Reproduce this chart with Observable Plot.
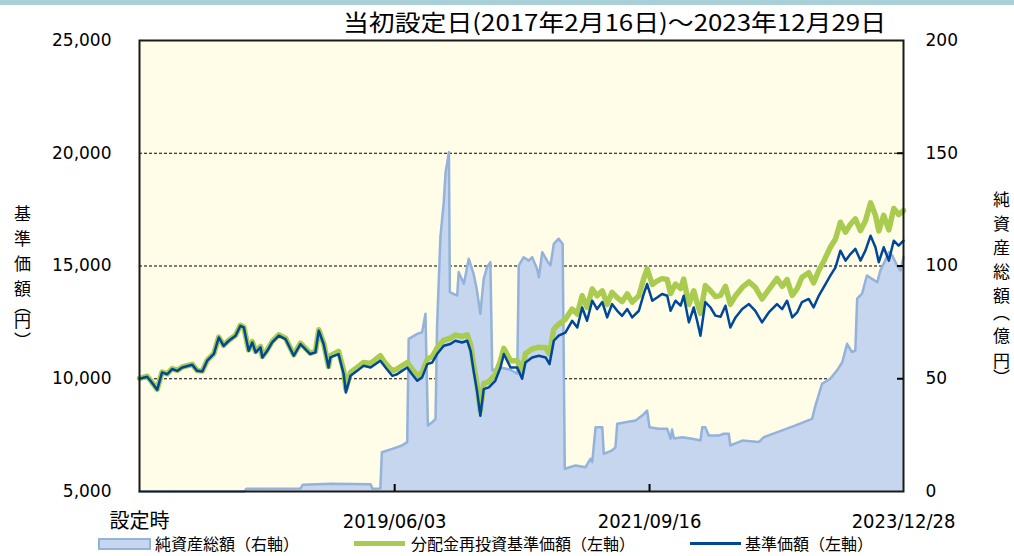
<!DOCTYPE html>
<html>
<head>
<meta charset="utf-8">
<script src="https://cdn.jsdelivr.net/npm/d3@7"></script>
<script src="https://cdn.jsdelivr.net/npm/@observablehq/plot@0.6"></script>
<style>
  body { margin: 0; background: #fff; }
  #wrap { position: relative; width: 1014px; height: 556px; overflow: hidden; font-family: "Noto Sans CJK JP", sans-serif; color: #000; }
  #band { position: absolute; left: 0; top: 0; width: 1014px; height: 5px; background: #a9d0d8; }
  #title { position: absolute; left: 343px; top: 8px; font-size: 23px; line-height: 26px; white-space: nowrap; transform-origin: 0 0; }
  #chart { position: absolute; left: 0; top: 0; }
  .vlab { position: absolute; writing-mode: vertical-rl; font-size: 17px; line-height: 18px; white-space: nowrap; }
  .leg { position: absolute; font-size: 16px; line-height: 16px; white-space: nowrap; top: 535px; }
  .sw { position: absolute; }
</style>
</head>
<body>
<div id="wrap">
  <div id="band"></div>
  <div id="chart"></div>
  <div id="title"></div>
  <div id="ylabL" class="vlab" style="left:13px;top:205px;"></div>
  <div id="ylabR" class="vlab" style="left:992px;top:191px;"></div>
  <div class="sw" style="left:98px;top:538px;width:49px;height:8px;background:#c5d6ee;border:2px solid #94b2da;"></div>
  <div class="leg" id="leg1" style="left:155px;"></div>
  <div class="sw" style="left:354px;top:541px;width:51px;height:5px;background:#a9cc50;"></div>
  <div class="leg" id="leg2" style="left:411px;"></div>
  <div class="sw" style="left:690px;top:542px;width:51px;height:3px;background:#00479a;"></div>
  <div class="leg" id="leg3" style="left:745px;"></div>
</div>
<script>
// ---- texts ----
const titleText = "当初設定日(2017年2月16日)～2023年12月29日";
const leftAxisTitle = "基準価額（円）";
const rightAxisTitle = "純資産総額（億円）";
const legendLabels = ["純資産総額（右軸）", "分配金再投資基準価額（左軸）", "基準価額（左軸）"];

// ---- axis ticks ----
const leftTicks = [5000, 10000, 15000, 20000, 25000];
const gridValues = [10000, 15000, 20000];
const xTickDates = ["2017-02-16", "2019-06-03", "2021-09-16", "2023-12-28"];
const xTickLabels = ["設定時", "2019/06/03", "2021/09/16", "2023/12/28"];

// ---- NAV series (円) ----
const navDates = [
"2017-02-16","2017-03-13","2017-03-24","2017-04-15","2017-05-01","2017-05-18","2017-06-03","2017-06-20","2017-07-06","2017-08-08","2017-08-24","2017-09-10","2017-09-26","2017-10-18","2017-11-03","2017-11-19","2017-12-06","2017-12-28",
"2018-01-13","2018-01-24","2018-02-09","2018-02-21","2018-03-04","2018-03-20","2018-03-26","2018-04-11","2018-04-27","2018-05-19","2018-06-10","2018-06-21","2018-07-07","2018-07-29","2018-08-14","2018-08-30","2018-09-16","2018-09-27","2018-10-13","2018-10-29","2018-11-04","2018-12-01","2018-12-18","2018-12-25",
"2019-01-09","2019-01-31","2019-02-21","2019-03-16","2019-04-17","2019-05-04","2019-05-26","2019-06-11","2019-06-27","2019-07-14","2019-07-30","2019-08-16","2019-09-01","2019-09-18","2019-10-04","2019-10-20","2019-11-11","2019-12-03","2019-12-19",
"2020-01-10","2020-01-27","2020-02-07","2020-02-17","2020-02-28","2020-03-10","2020-03-21","2020-04-07","2020-04-28","2020-05-15","2020-05-26","2020-06-17","2020-07-09","2020-07-25","2020-08-05","2020-08-27","2020-09-18","2020-10-10","2020-10-23","2020-11-06","2020-11-22","2020-12-14",
"2021-01-05","2021-01-22","2021-02-07","2021-02-23","2021-03-12","2021-03-28","2021-04-14","2021-04-30","2021-05-16","2021-06-02","2021-06-18","2021-07-05","2021-07-21","2021-08-12","2021-08-28","2021-09-08","2021-09-25","2021-10-11","2021-10-27","2021-11-13","2021-11-24","2021-12-10","2021-12-27",
"2022-01-06","2022-01-23","2022-02-08","2022-02-19","2022-03-02","2022-03-18","2022-04-04","2022-04-20","2022-05-07","2022-05-23","2022-06-08","2022-06-25","2022-07-17","2022-08-08","2022-08-29","2022-09-20","2022-10-12","2022-11-08","2022-11-25","2022-12-11","2022-12-28",
"2023-01-13","2023-01-29","2023-02-20","2023-03-08","2023-03-25","2023-04-10","2023-05-02","2023-05-19","2023-06-04","2023-06-21","2023-07-07","2023-07-23","2023-08-09","2023-08-25","2023-09-11","2023-09-27","2023-10-08","2023-10-24","2023-11-10","2023-11-26","2023-12-12","2023-12-28"
];
const navValues = [
10000,10090,9910,9510,10280,10200,10430,10350,10500,10620,10350,10320,10800,11100,11830,11460,11685,11910,
12350,12280,11240,11610,11170,11390,10945,11240,11610,11910,11760,11460,11020,11540,11317,11095,11170,12130,11540,10500,10945,11095,10200,9390,
10130,10350,10575,10500,10800,10500,10130,10200,10350,10500,10200,9910,10060,10650,10720,11095,11460,11540,11685,
11610,11685,11240,10350,9470,8360,9540,9615,9910,10500,11095,10500,10500,10000,10720,10945,11020,10945,10650,11685,11910,12050,
12570,12275,13160,12570,13460,13090,13400,12720,13310,13015,12790,13090,12720,13015,13760,14200,13460,13600,13760,13680,13015,13460,13240,
13680,12500,13160,12570,11910,13400,13160,12800,12750,13240,12275,12720,13090,13310,13015,12500,12940,13310,13090,13460,12720,
12940,13400,13540,13160,13680,14050,14570,14940,15680,15240,15530,15760,15240,15680,16340,15830,15170,15830,15240,16120,15900,16120
];
const reinvValues = [
10020,10110,9930,9530,10300,10220,10450,10370,10520,10640,10370,10340,10820,11120,11850,11480,11705,11930,
12370,12300,11280,11650,11210,11430,10985,11280,11650,11950,11800,11500,11060,11580,11357,11135,11210,12170,11580,10540,11025,11210,10350,9540,
10280,10500,10720,10680,11020,10680,10350,10430,10575,10720,10430,10130,10280,10870,10975,11360,11715,11805,11940,
11875,11950,11510,10620,9735,8580,9790,9880,10180,10800,11350,10800,10800,10350,11120,11320,11400,11380,11100,12200,12420,12640,
13090,12870,13680,13160,13980,13680,13900,13300,13830,13600,13420,13760,13400,13680,14450,14870,14180,14340,14440,14400,13780,14200,14000,
14420,13300,13900,13360,12900,14130,13900,13650,13700,14100,13300,13680,14050,14300,14050,13540,13950,14450,14100,14400,13700,
14000,14500,14700,14250,14800,15200,15830,16200,16940,16500,16850,17090,16570,17000,17800,17250,16550,17250,16600,17550,17280,17460
];

// ---- net assets (億円, right axis) ----
const assetDates = [
"2017-02-16","2018-01-26","2018-02-02","2018-07-29","2018-08-05","2018-11-05","2019-03-16","2019-03-22","2019-04-17","2019-04-22",
"2019-05-26","2019-06-27","2019-07-14","2019-07-19","2019-08-16","2019-09-01","2019-09-12","2019-09-20","2019-10-04","2019-10-15",
"2019-10-20","2019-10-31","2019-11-11","2019-11-17","2019-11-28","2019-12-01","2019-12-25","2019-12-30","2020-01-16","2020-02-01",
"2020-02-17","2020-02-28","2020-03-10","2020-03-21","2020-04-01","2020-04-12","2020-04-18","2020-05-15","2020-06-17","2020-07-09",
"2020-07-14","2020-07-30","2020-08-16","2020-08-27","2020-09-12","2020-09-18","2020-09-29","2020-10-15","2020-10-26","2020-11-06",
"2020-11-22","2020-12-05","2020-12-12","2021-01-16","2021-02-18","2021-03-06","2021-03-12","2021-03-23","2021-04-14","2021-04-19",
"2021-05-16","2021-05-27","2021-06-02","2021-06-29","2021-08-01","2021-08-23","2021-09-08","2021-09-16","2021-10-16","2021-11-13",
"2021-11-24","2021-11-29","2021-12-05","2022-01-01","2022-02-03","2022-03-02","2022-03-08","2022-03-18","2022-03-29","2022-05-01",
"2022-05-17","2022-06-03","2022-06-08","2022-07-17","2022-09-09","2022-09-26","2022-11-25","2023-01-08","2023-03-03","2023-03-14",
"2023-04-05","2023-05-02","2023-05-24","2023-06-10","2023-06-26","2023-07-12","2023-07-23","2023-07-29","2023-08-14","2023-08-30",
"2023-09-16","2023-10-03","2023-10-13","2023-10-29","2023-11-10","2023-11-21","2023-12-07","2023-12-18","2023-12-28"
];
const assetValues = [
0,0,1.2,1.3,3.0,3.4,3.2,1.2,1.3,17.4,
18.9,20.4,21.9,67.7,69.9,70.6,78.8,29.3,30.7,32.2,
72.9,112.8,128.3,141.6,150.5,88.4,86.9,97.3,92.1,103.2,
96.5,89.1,78.8,94.3,99.5,101.7,53.7,55,54,52.2,
100.2,103.9,102.4,103.9,98.8,95.0,106.1,102.4,100.2,109.8,
112.1,109.8,10.1,11.5,10.8,14.5,13.0,28.5,28.5,16.7,
18.2,19.6,30.0,30.7,31.5,33.7,35.9,28.5,27.8,27.8,
23.4,27.5,23.5,24.1,23.4,22.6,28.5,28.5,24.8,24.8,
25.6,25.6,20.4,22.6,21.9,24.1,27.1,29.3,32.2,38.1,
47.8,50.0,53.7,57.3,65.5,61.8,62.5,85.5,87.7,95.8,
94.3,92.8,98.0,102.4,106.1,104.7,100.2,98.0,103.9
];

// ---- build ----
const parse = d3.utcParse("%Y-%m-%d");
const nav = navDates.map((d, i) => ({date: parse(d), nav: navValues[i], re: reinvValues[i]}));
const assets = assetDates.map((d, i) => ({date: parse(d), v: assetValues[i]}));
const tickDates = xTickDates.map(parse);
const labelMap = new Map(tickDates.map((d, i) => [+d, xTickLabels[i]]));
// right axis 0–200 億円 shares the frame with left axis 5,000–25,000 円
const toLeft = v => 5000 + v * 100;

const chart = Plot.plot({
  width: 1014,
  height: 556,
  marginLeft: 139,
  marginRight: 111,
  marginTop: 40,
  marginBottom: 65,
  style: {background: "transparent", fontFamily: "'DejaVu Sans', sans-serif", fontSize: "17px", color: "#000", overflow: "visible"},
  x: {type: "utc", domain: [tickDates[0], tickDates[tickDates.length - 1]]},
  y: {domain: [5000, 25000]},
  marks: [
    Plot.frame({fill: "#fffde8", stroke: null}),
    Plot.ruleY(gridValues, {stroke: "#000", strokeWidth: 1, strokeDasharray: "3,2"}),
    Plot.areaY(assets, {x: "date", y1: 5000, y2: d => toLeft(d.v), fill: "#c5d6ee"}),
    Plot.lineY(assets, {x: "date", y: d => toLeft(d.v), stroke: "#94b2da", strokeWidth: 2.5, strokeLinejoin: "round"}),
    Plot.lineY(nav, {x: "date", y: "re", stroke: "#a9cc50", strokeWidth: 5.5, strokeLinejoin: "round"}),
    Plot.lineY(nav, {x: "date", y: "nav", stroke: "#00479a", strokeWidth: 2.5, strokeLinejoin: "round"}),
    Plot.frame({stroke: "#1a1a1a", strokeWidth: 2}),
    Plot.tickY(gridValues, {y: d => d, insetLeft: 758, stroke: "#000", strokeWidth: 2}),
    Plot.tickX(tickDates.slice(1, 3), {x: d => d, insetTop: 444, stroke: "#000", strokeWidth: 2}),
    Plot.axisY({anchor: "left", ticks: leftTicks, tickFormat: d3.format(","), tickSize: 0, tickPadding: 28, fontSize: 17}),
    Plot.axisY({anchor: "right", ticks: leftTicks, tickFormat: d => String((d - 5000) / 100), tickSize: 0, tickPadding: 22, fontSize: 17}),
    Plot.axisX({ticks: tickDates, tickFormat: d => labelMap.get(+d), tickSize: 0, tickPadding: 22, fontSize: 20,
      fontFamily: "'DejaVu Sans Condensed', 'DejaVu Sans', 'Noto Sans CJK JP', sans-serif"})
  ]
});
document.getElementById("chart").appendChild(chart);

const t = document.getElementById("title");
t.textContent = titleText;
const tw = t.scrollWidth;
t.style.transform = `scaleX(${543 / tw})`;

// vertical axis titles: per-character spacing (brackets sit tighter)
function vertical(el, text, spacings) {
  [...text].forEach((ch, i) => {
    const s = document.createElement("span");
    s.textContent = ch;
    s.style.letterSpacing = spacings[i] + "px";
    el.appendChild(s);
  });
}
vertical(document.getElementById("ylabL"), leftAxisTitle, [8, 8, 8, 0, -2, 3, 0]);
vertical(document.getElementById("ylabR"), rightAxisTitle, [7, 7, 7, 7, 0, 6, 8, 0, 0]);

document.getElementById("leg1").textContent = legendLabels[0];
document.getElementById("leg2").textContent = legendLabels[1];
document.getElementById("leg3").textContent = legendLabels[2];
</script>
</body>
</html>
